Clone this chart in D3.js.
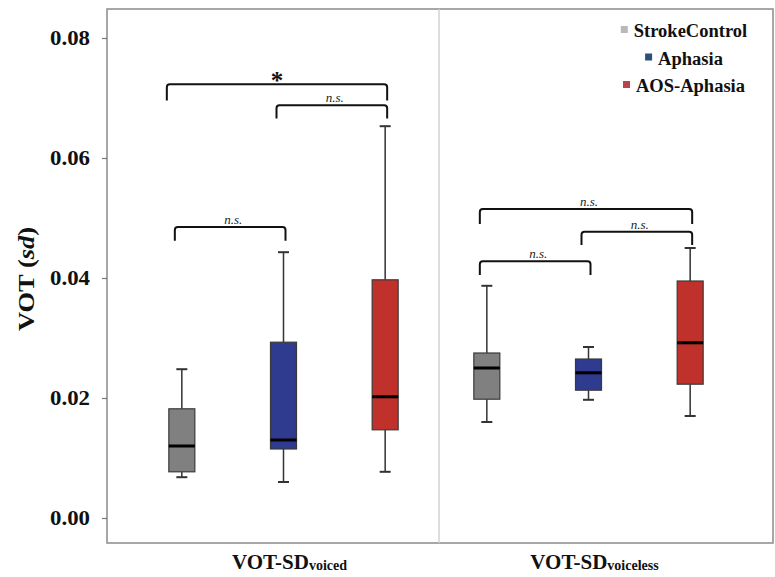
<!DOCTYPE html>
<html>
<head>
<meta charset="utf-8">
<script src="https://cdn.jsdelivr.net/npm/d3@7"></script>
<style>
  html, body { margin: 0; padding: 0; background: #fff; }
  svg { display: block; }
  text { font-family: "Liberation Serif", "Times New Roman", serif; }
</style>
</head>
<body>
<svg id="chart" width="775" height="577"></svg>
<script>
// Measures and groups
const measures = ["voiced", "voiceless"];
const groups = ["StrokeControl", "Aphasia", "AOS-Aphasia"];
const boxColors = ["#808080", "#2f3b8f", "#c1312b"];
const legendColors = ["#b9b9b9", "#2d5078", "#b8444e"];

// Five-number summaries per measure, one entry per group: [min, q1, median, q3, max]
const voicedStats = [
  [0.0068, 0.0077, 0.0120, 0.0182, 0.0248],
  [0.0060, 0.0115, 0.0130, 0.0293, 0.0443],
  [0.0077, 0.0147, 0.0202, 0.0397, 0.0653]
];
const voicelessStats = [
  [0.0160, 0.0198, 0.0250, 0.0275, 0.0387],
  [0.0197, 0.0213, 0.0242, 0.0265, 0.0285],
  [0.0170, 0.0223, 0.0292, 0.0395, 0.0450]
];
const yTicks = [0, 0.02, 0.04, 0.06, 0.08];

// Significance brackets: measure, from group, to group, height (value), leg length, label
const brackets = [
  { m: "voiced", a: 0, b: 2, v: 0.0723, leg: 0.0027, label: "*" },
  { m: "voiced", a: 1, b: 2, v: 0.0688, leg: 0.0022, label: "n.s." },
  { m: "voiced", a: 0, b: 1, v: 0.0485, leg: 0.0023, label: "n.s." },
  { m: "voiceless", a: 0, b: 2, v: 0.0515, leg: 0.0025, label: "n.s." },
  { m: "voiceless", a: 1, b: 2, v: 0.0477, leg: 0.0022, label: "n.s." },
  { m: "voiceless", a: 0, b: 1, v: 0.0428, leg: 0.0023, label: "n.s." }
];

const statsByMeasure = { voiced: voicedStats, voiceless: voicelessStats };

const svg = d3.select("#chart");
const frame = { left: 107, right: 773, top: 9, bottom: 543 };

const y = d3.scaleLinear().domain([0, 0.08]).range([518, 38]);
const x0 = d3.scaleBand().domain(measures).range([131, 741]);
const x1 = d3.scalePoint().domain(groups).range([0, x0.bandwidth()]).padding(0.5);
const cx = (m, gi) => x0(m) + x1(groups[gi]);

// Plot frame
svg.append("rect")
  .attr("x", frame.left).attr("y", frame.top)
  .attr("width", frame.right - frame.left).attr("height", frame.bottom - frame.top)
  .attr("fill", "none").attr("stroke", "#8a8a8a").attr("stroke-width", 1.5);

// Divider between the two measures
svg.append("line")
  .attr("x1", x0("voiceless") + 3).attr("x2", x0("voiceless") + 3)
  .attr("y1", frame.top).attr("y2", frame.bottom)
  .attr("stroke", "#d0d0d0").attr("stroke-width", 1.5);

// Y axis
const yAxis = d3.axisLeft(y).tickValues(yTicks).tickFormat(d3.format(".2f")).tickSize(5).tickPadding(12);
const yg = svg.append("g").attr("transform", `translate(${frame.left},0)`).call(yAxis);
yg.select(".domain").remove();
yg.selectAll(".tick line").attr("stroke", "#777").attr("stroke-width", 1.2);
yg.selectAll(".tick text")
  .attr("font-family", "Liberation Serif, serif")
  .attr("font-size", 20).attr("font-weight", "bold").attr("fill", "#111")
  .attr("textLength", 40).attr("lengthAdjust", "spacingAndGlyphs");

// Y axis title
const yt = svg.append("text")
  .attr("transform", "translate(34,279) rotate(-90) scale(1.15,1)")
  .attr("text-anchor", "middle")
  .attr("font-size", 23).attr("font-weight", "bold").attr("fill", "#111");
yt.append("tspan").text("VOT (");
yt.append("tspan").attr("font-style", "italic").text("sd");
yt.append("tspan").text(")");

// Box plots
const boxW = 26, capW = 11;
measures.forEach(m => {
  statsByMeasure[m].forEach((s, gi) => {
    const c = cx(m, gi);
    const g = svg.append("g");
    // whiskers
    g.append("line").attr("x1", c).attr("x2", c).attr("y1", y(s[4])).attr("y2", y(s[3]))
      .attr("stroke", "#333").attr("stroke-width", 1.5);
    g.append("line").attr("x1", c).attr("x2", c).attr("y1", y(s[1])).attr("y2", y(s[0]))
      .attr("stroke", "#333").attr("stroke-width", 1.5);
    [s[0], s[4]].forEach(v => {
      g.append("line").attr("x1", c - capW / 2).attr("x2", c + capW / 2)
        .attr("y1", y(v)).attr("y2", y(v)).attr("stroke", "#333").attr("stroke-width", 2);
    });
    // box
    g.append("rect").attr("x", c - boxW / 2).attr("y", y(s[3]))
      .attr("width", boxW).attr("height", y(s[1]) - y(s[3]))
      .attr("fill", boxColors[gi]).attr("stroke", "#3a3a3a").attr("stroke-width", 1.2);
    // median
    g.append("line").attr("x1", c - boxW / 2).attr("x2", c + boxW / 2)
      .attr("y1", y(s[2])).attr("y2", y(s[2])).attr("stroke", "#000").attr("stroke-width", 3);
  });
});

// Significance brackets
brackets.forEach(b => {
  const xa = cx(b.m, b.a) - (b.label === "*" ? 15 : 7), xb = cx(b.m, b.b) + 2;
  const yb = y(b.v), yl = y(b.v - b.leg);
  svg.append("path")
    .attr("d", `M${xa},${yl} L${xa},${yb + 3} Q${xa},${yb} ${xa + 3},${yb} L${xb - 3},${yb} Q${xb},${yb} ${xb},${yb + 3} L${xb},${yl}`)
    .attr("fill", "none").attr("stroke", "#111").attr("stroke-width", 2);
  if (b.label === "*") {
    svg.append("text").attr("x", (xa + xb) / 2).attr("y", yb + 5).attr("text-anchor", "middle")
      .attr("font-size", 25).attr("font-weight", "bold").attr("fill", "#111").text("*");
  } else {
    svg.append("text").attr("x", (xa + xb) / 2 + 3).attr("y", yb - 3).attr("text-anchor", "middle")
      .attr("font-size", 13).attr("font-style", "italic").attr("fill", "#222").text(b.label);
  }
});

// X category labels with subscripts
measures.forEach(m => {
  const t = svg.append("text")
    .attr("x", x0(m) + x0.bandwidth() / 2 + 6).attr("y", 569)
    .attr("text-anchor", "middle").attr("font-weight", "bold").attr("fill", "#111");
  t.append("tspan").attr("font-size", 21).text("VOT-SD");
  t.append("tspan").attr("font-size", 14).attr("dy", 1).text(m);
});

// Legend
const legendCenter = 684;
groups.forEach((gname, i) => {
  const gy = 37 + i * 27.5;
  const lg = svg.append("g");
  const txt = lg.append("text").attr("y", gy).attr("font-size", 18.5)
    .attr("font-weight", "bold").attr("fill", "#111").text(gname);
  const w = txt.node().getComputedTextLength();
  const total = 7 + 6 + w;
  const xl = legendCenter - total / 2;
  lg.append("rect").attr("x", xl).attr("y", gy - 11).attr("width", 7).attr("height", 7)
    .attr("fill", legendColors[i]);
  txt.attr("x", xl + 13);
});
</script>
</body>
</html>
